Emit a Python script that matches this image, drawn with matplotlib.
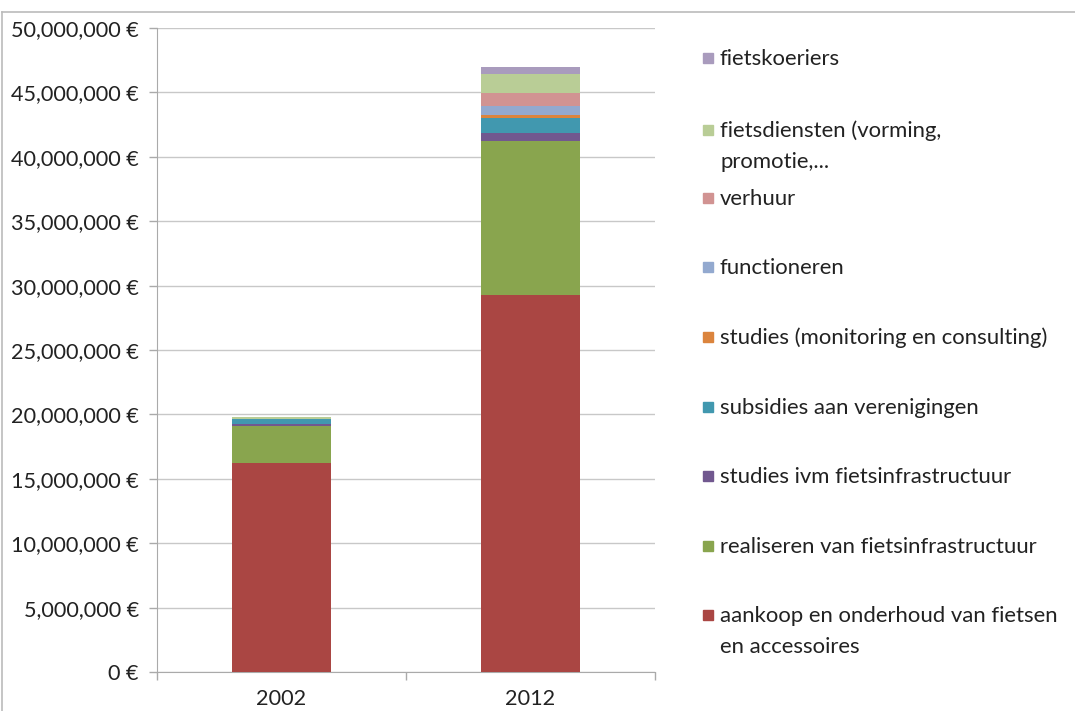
import matplotlib
matplotlib.use('Agg')
import matplotlib.pyplot as plt
from matplotlib.patches import Rectangle
from matplotlib.lines import Line2D
import numpy as np

years = ['2002', '2012']
categories = [
    'aankoop en onderhoud van fietsen\nen accessoires',
    'realiseren van fietsinfrastructuur',
    'studies ivm fietsinfrastructuur',
    'subsidies aan verenigingen',
    'studies (monitoring en consulting)',
    'functioneren',
    'verhuur',
    'fietsdiensten (vorming,\npromotie,...',
    'fietskoeriers',
]
values_2002 = [16250000, 2850000, 150000, 360000, 20000, 50000, 0, 80000, 20000]
values_2012 = [29270000, 11960000, 590000, 1170000, 260000, 700000, 990000, 1500000, 570000]
colors = ['#AA4643', '#89A54E', '#71588F', '#4198AF', '#DB843D',
          '#93A9CF', '#D19392', '#B9CD96', '#A99BBD']

plt.rcParams['font.family'] = ['Lato', 'DejaVu Sans']

W, H = 1075, 711
fig = plt.figure(figsize=(W / 100, H / 100), dpi=100)
ax = fig.add_axes([157 / W, 39 / H, 498 / W, 644 / H])

x = np.arange(len(years))
bottom = np.zeros(len(years))
for name, v02, v12, c in zip(categories, values_2002, values_2012, colors):
    vals = np.array([v02, v12], dtype=float)
    ax.bar(x, vals, width=0.4, bottom=bottom, color=c, zorder=3)
    bottom += vals

ax.set_xlim(-0.5, 1.5)
ax.set_ylim(0, 50000000)
ax.set_yticks(np.arange(0, 50000001, 5000000))
ax.set_yticklabels([f'{int(v):,} €' for v in np.arange(0, 50000001, 5000000)])
ax.set_xticks(x)
ax.set_xticklabels(years)
ax.set_xticks([-0.5, 0.5, 1.5], minor=True)
ax.tick_params(axis='x', which='major', length=0, pad=12, labelsize=15.6, colors='#222222')
ax.tick_params(axis='x', which='minor', length=6, color='#aaaaaa', width=1)
ax.tick_params(axis='y', length=6, color='#aaaaaa', width=1, labelsize=15.6,
               labelcolor='#222222', pad=7)
ax.yaxis.grid(True, color='#c8c8c8', linewidth=1, zorder=0)
for s in ['top', 'right']:
    ax.spines[s].set_visible(False)
for s in ['left', 'bottom']:
    ax.spines[s].set_color('#aaaaaa')

# legend drawn by hand, top entry first
ys = [58, 130, 198, 267, 337, 407, 476, 546, 615]
for name, c, yy in zip(categories[::-1], colors[::-1], ys):
    fig.patches.append(Rectangle((703 / W, 1 - (yy + 5) / H), 10 / W, 10 / H,
                                 transform=fig.transFigure, color=c))
    for k, line in enumerate(name.split('\n')):
        fig.text(720 / W, 1 - (yy + 7 + 31 * k) / H, line, fontsize=15.9,
                 va='baseline', ha='left', color='#222222')

# outer chart frame
fig.add_artist(Line2D([2 / W, 1], [1 - 12 / H, 1 - 12 / H], transform=fig.transFigure,
                      color='#bbbbbb', lw=1.2))
fig.add_artist(Line2D([2 / W, 2 / W], [0, 1 - 12 / H], transform=fig.transFigure,
                      color='#bbbbbb', lw=1.2))

fig.savefig('out.png', dpi=100)
